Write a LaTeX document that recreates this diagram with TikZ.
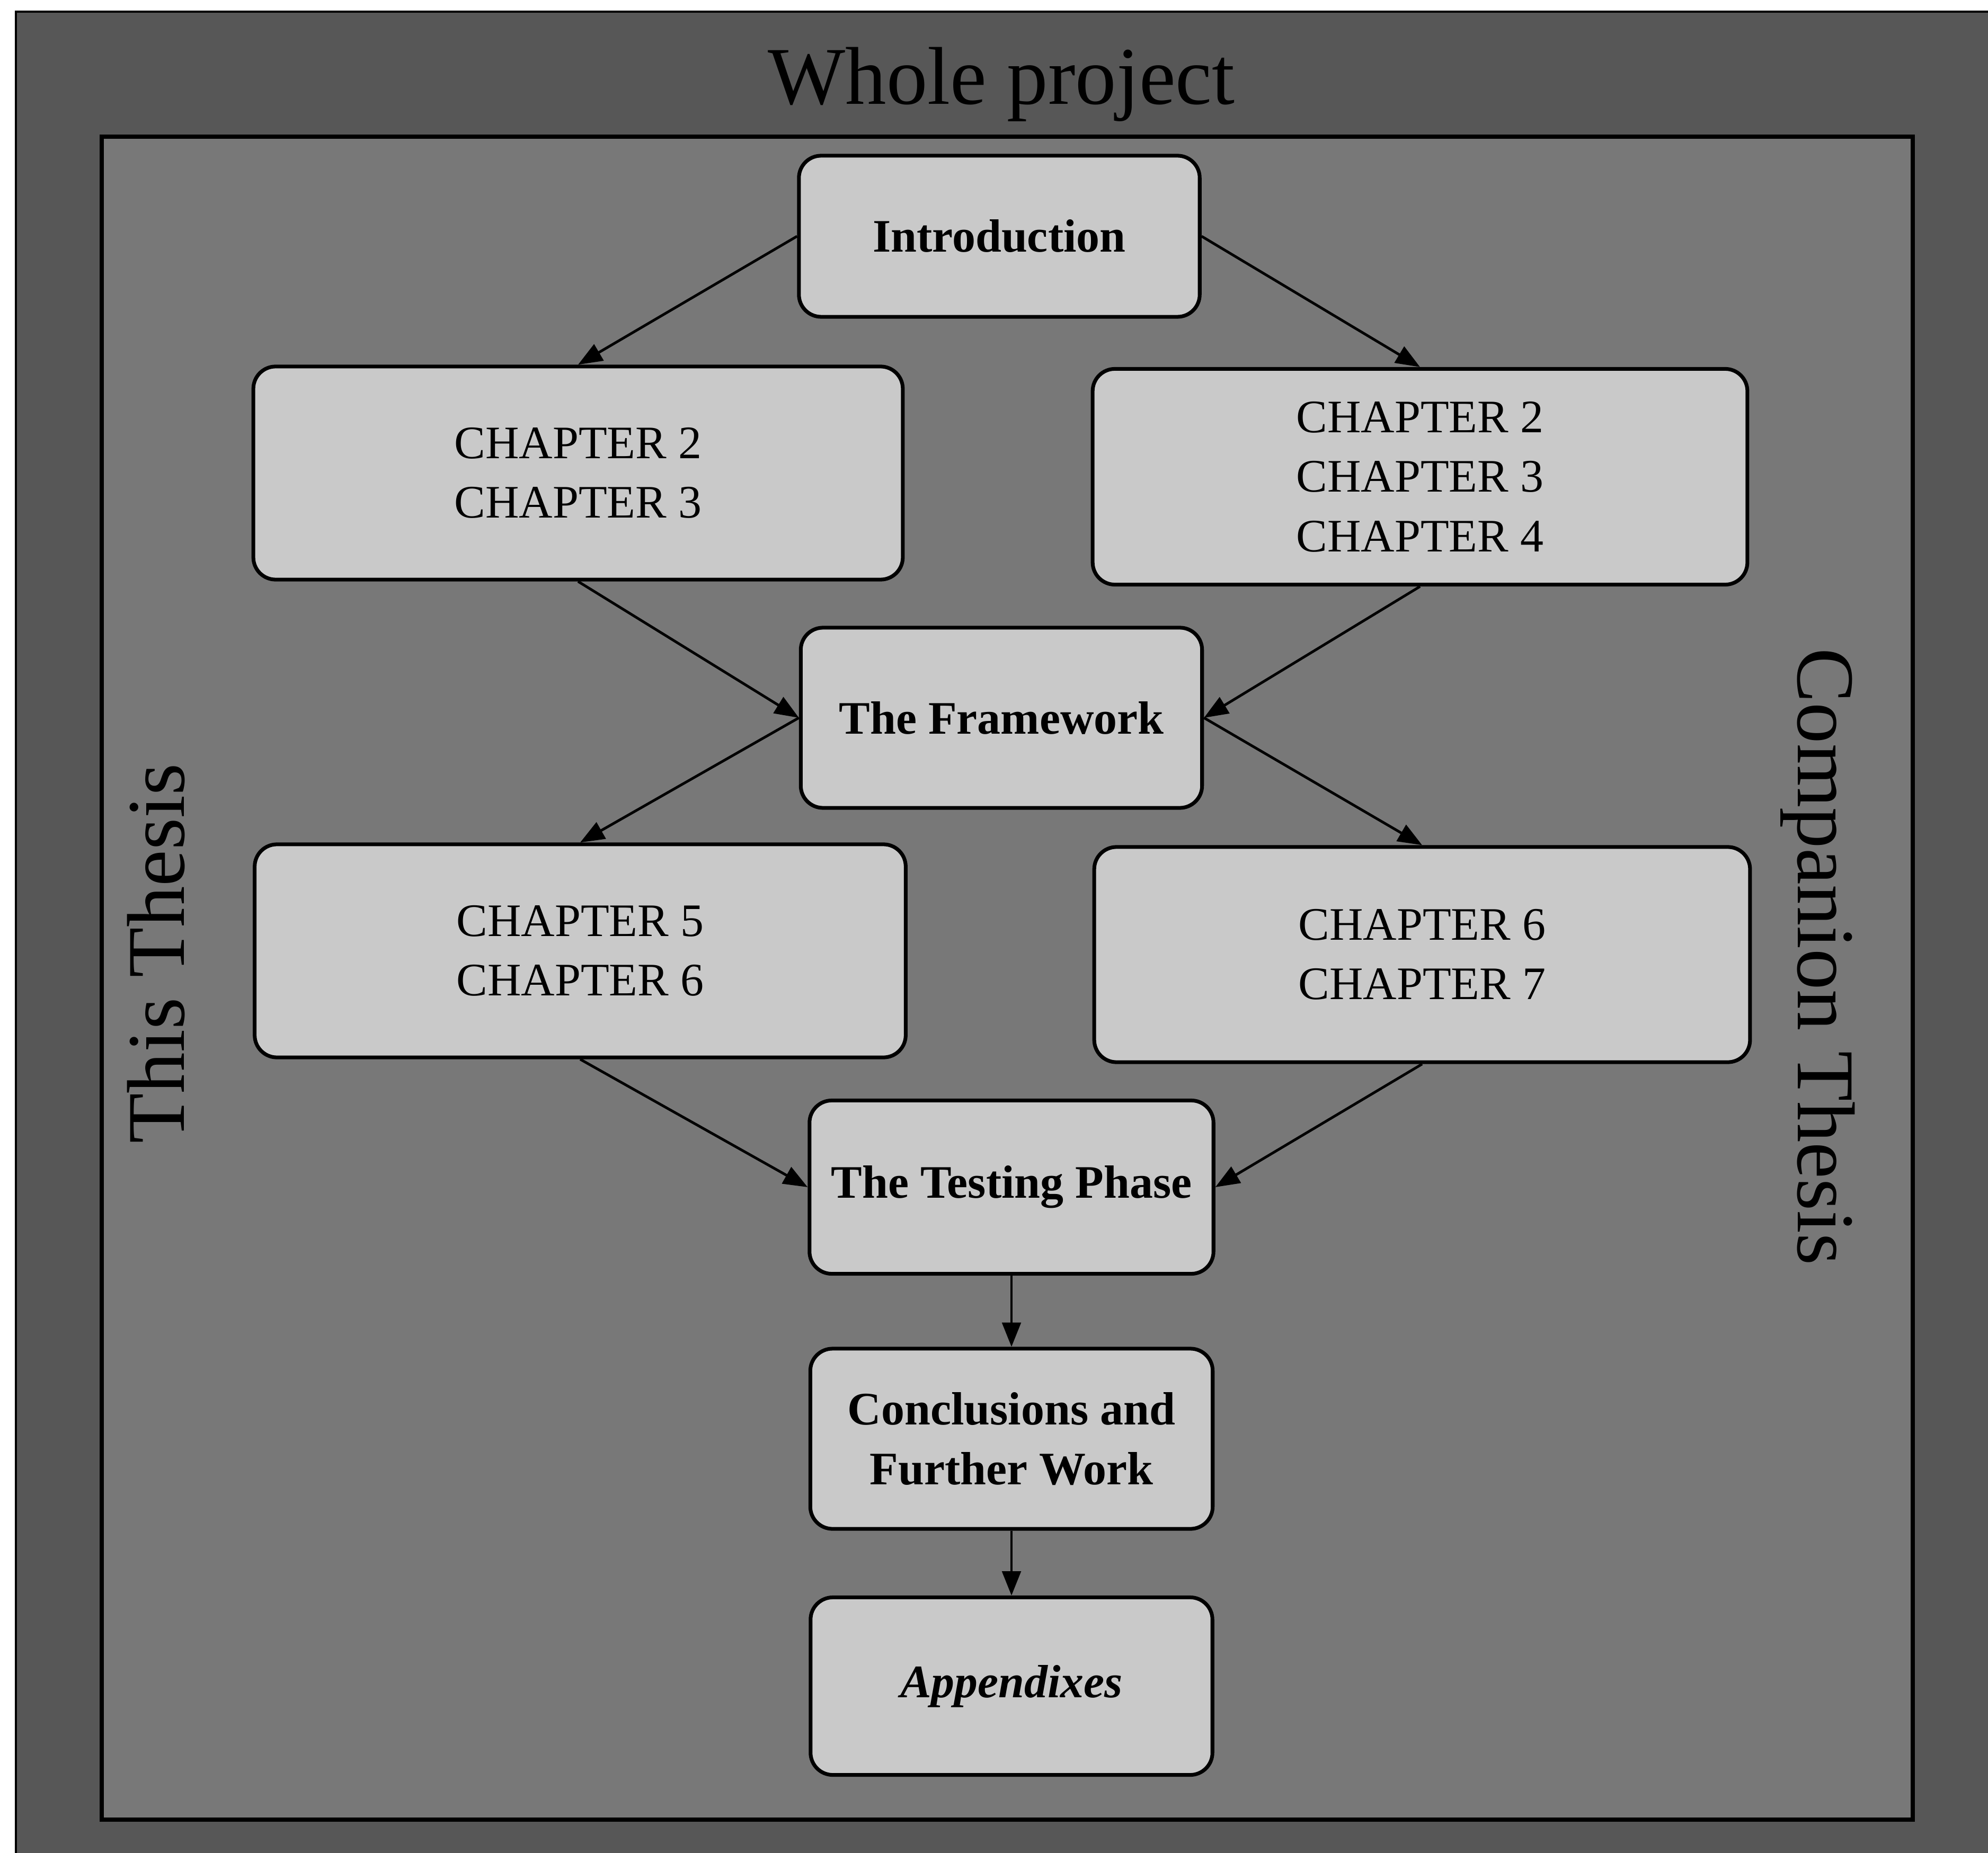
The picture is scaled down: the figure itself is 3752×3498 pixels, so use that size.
\documentclass[tikz,border=0pt]{standalone}
\usepackage{fontspec}
\setmainfont{Liberation Serif}
\usetikzlibrary{arrows.meta}
\definecolor{frameband}{gray}{0.34}
\definecolor{panel}{gray}{0.47}
\definecolor{boxfill}{gray}{0.79}

\begin{document}
\begin{tikzpicture}[x=0.01cm,y=-0.01cm,
  chapbox/.style={draw=black, line width=2pt, fill=boxfill,
    rounded corners=0.42cm, align=center, inner sep=0pt,
    font=\fontsize{25}{32}\selectfont},
  boldbox/.style={chapbox, font=\fontsize{25}{32}\selectfont\bfseries},
  flow/.style={line width=1.4pt, -{Triangle[length=13pt,width=10pt]}},
  sidelabel/.style={font=\fontsize{44}{50}\selectfont, anchor=base, inner sep=0pt}
]
% page
\fill[white] (0,0) rectangle (3752,3498);
\path[use as bounding box] (0,0) rectangle (3752,3498);

% outer band: the whole project
\fill[frameband] (30,22) rectangle (3752,3498);
\draw[line width=1.2pt] (30,3498) -- (30,22) -- (3752,22);

% inner panel
\draw[fill=panel, line width=2.4pt] (192,258) rectangle (3610,3435);

% labels of the areas
\node[sidelabel, font=\fontsize{44}{50}\selectfont] (whole) at (1890,197) {Whole project};
\node[sidelabel, rotate=90] (this) at (347,1800) {This Thesis};
\node[sidelabel, rotate=-90] (comp) at (3393,1806) {Companion Thesis};

% chapter boxes
\node[boldbox, minimum width=7.56cm, minimum height=3.04cm] (intro) at (1886,446) {Introduction};
\node[chapbox, minimum width=12.25cm, minimum height=4.02cm] (c23) at (1091,893) {CHAPTER 2\\CHAPTER 3};
\node[chapbox, minimum width=12.35cm, minimum height=4.07cm] (c234) at (2680,900) {CHAPTER 2\\CHAPTER 3\\CHAPTER 4};
\node[boldbox, minimum width=7.57cm, minimum height=3.40cm] (frame) at (1890,1355) {The Framework};
\node[chapbox, minimum width=12.28cm, minimum height=4.02cm] (c56) at (1095,1795) {CHAPTER 5\\CHAPTER 6};
\node[chapbox, minimum width=12.37cm, minimum height=4.06cm] (c67) at (2684,1802) {CHAPTER 6\\CHAPTER 7};
\node[boldbox, minimum width=7.62cm, minimum height=3.27cm] (test) at (1909,2241) {The Testing Phase};
\node[boldbox, minimum width=7.59cm, minimum height=3.40cm] (concl) at (1909,2716) {Conclusions and\\Further Work};
\node[boldbox, minimum width=7.58cm, minimum height=3.35cm] (app) at (1909,3183) {\itshape Appendixes};

% reading order
\draw[flow] (intro.west) -- (c23.north);
\draw[flow] (intro.east) -- (c234.north);
\draw[flow] (c23.south) -- (frame.west);
\draw[flow] (c234.south) -- (frame.east);
\draw[flow] (frame.west) -- (c56.north);
\draw[flow] (frame.east) -- (c67.north);
\draw[flow] (c56.south) -- (test.west);
\draw[flow] (c67.south) -- (test.east);
\draw[flow] (test.south) -- (concl.north);
\draw[flow] (concl.south) -- (app.north);
\end{tikzpicture}
\end{document}
